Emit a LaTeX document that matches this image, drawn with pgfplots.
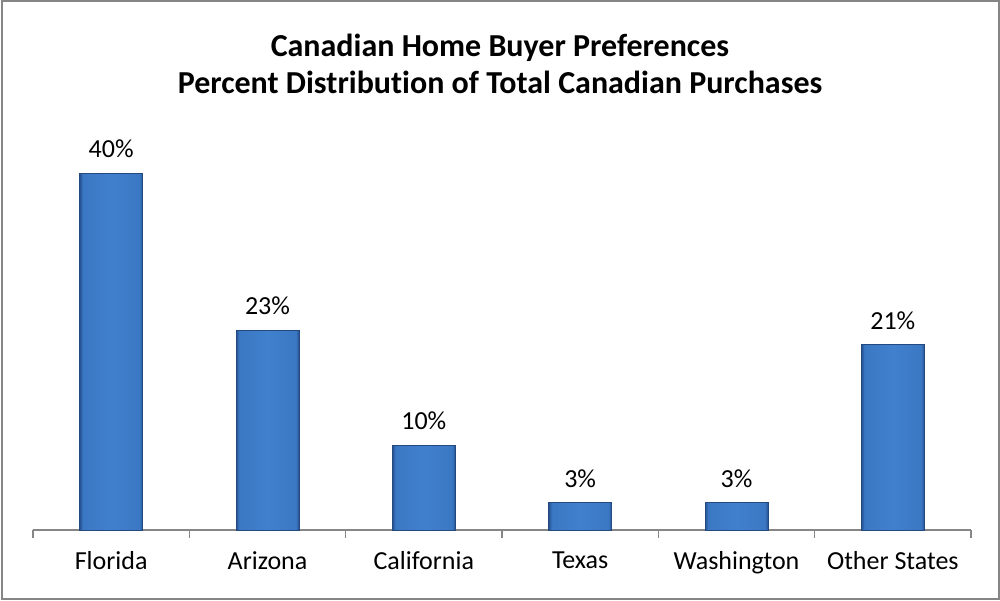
\documentclass[border=0pt]{standalone}
\usepackage{pgfplots}
\pgfplotsset{compat=1.18}
\usepackage{fontspec}
\setmainfont{Carlito}[Ligatures={NoCommon}]
\definecolor{barmid}{HTML}{4080CC}
\definecolor{barmid2}{HTML}{3B78C4}
\definecolor{baredge}{HTML}{24508F}
\definecolor{barline}{HTML}{23497F}
\definecolor{axgray}{HTML}{868686}
\pgfdeclarehorizontalshading{barshade}{100bp}{color(0bp)=(baredge); color(25bp)=(baredge); color(27.5bp)=(barmid2); color(50bp)=(barmid); color(72.5bp)=(barmid2); color(75bp)=(baredge); color(100bp)=(baredge)}
\begin{document}
\begin{tikzpicture}
\path[use as bounding box] (0,0) rectangle (500pt,300pt);
\draw[axgray, line width=1pt] (0.75pt,0.75pt) rectangle (499.25pt,299.25pt);
\node[font=\fontsize{16}{18.5}\selectfont\bfseries, align=center] at (250pt,268pt)
  {Canadian Home Buyer Preferences\\Percent Distribution of Total Canadian Purchases};
\begin{axis}[
  at={(16.5pt,35pt)}, anchor=south west,
  scale only axis, width=469pt, height=200.8pt,
  xmin=-0.5, xmax=5.5, ymin=0, ymax=45,
  axis x line*=bottom, axis y line=none,
  axis line style={axgray, line width=0.8pt, -},
  xtick={0,...,5},
  xticklabels={Florida,Arizona,California,Texas,Washington,Other States},
  major x tick style={draw=none},
  minor xtick={-0.5,0.5,1.5,2.5,3.5,4.5,5.5},
  minor tick length=4pt,
  minor x tick style={axgray, line width=0.8pt},
  tick align=outside,
  xticklabel style={font=\fontsize{13}{15}\selectfont, yshift=-3pt},
  clip=false,
  nodes near coords,
  point meta=explicit symbolic,
  every node near coord/.append style={font=\fontsize{13}{15}\selectfont, yshift=4pt},
  bevbar/.style={ybar, bar width=31.5pt, bar shift=0pt, draw=barline, line width=0.4pt, shade, shading=barshade},
]
\addplot[bevbar] coordinates {(0,40)[40\%]};
\addplot[bevbar] coordinates {(1,22.4)[23\%]};
\addplot[bevbar] coordinates {(2,9.5)[10\%]};
\addplot[bevbar] coordinates {(3,3.1)[3\%]};
\addplot[bevbar] coordinates {(4,3.1)[3\%]};
\addplot[bevbar] coordinates {(5,20.8)[21\%]};
\end{axis}
\end{tikzpicture}
\end{document}
